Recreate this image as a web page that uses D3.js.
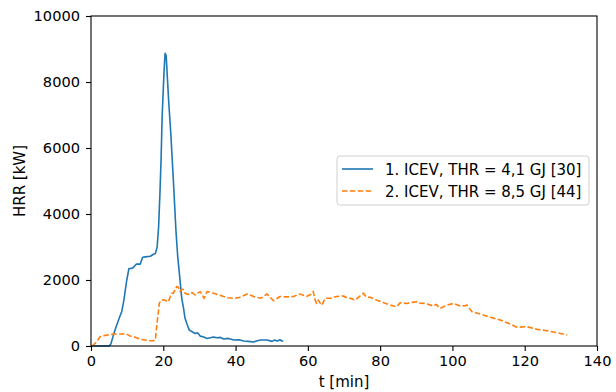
<!DOCTYPE html>
<html lang="en">
  <head>
    <meta charset="UTF-8" />
    <title>HRR ICEV</title>
    <script src="https://d3js.org/d3.v7.min.js"></script>
    <style>
      body { margin: 0; background: #fff; }
      text { font-family: "DejaVu Sans", sans-serif; fill: #000; }
    </style>
  </head>
  <body>
    <svg id="chart"></svg>
    <script>
      // series 1: ICEV, THR = 4,1 GJ
      const t1 = [0, 5, 5.5, 6.2, 7, 8, 8.5, 9.1, 9.5, 9.9, 10.5, 11.2, 11.7, 12.5, 13.6, 14.3, 15, 16.4, 17.3, 17.8,
        18.3, 18.7, 19.1, 19.4, 19.7, 20.2, 20.5, 20.8, 21.2, 21.5, 22.1, 22.5, 22.8, 23.5, 24.0, 24.5, 25.1, 25.6,
        26.0, 26.6, 27.2, 28.0, 28.8, 29.5, 30.2, 31, 32.1, 33, 33.9, 34.9, 35.8, 36.7, 38, 39.6, 41, 42.2, 43.5, 45,
        46, 46.9, 48.7, 50.1, 50.8, 51.5, 52.3, 52.8, 53.2];
      const hrr1 = [0, 0, 60, 330, 600, 900, 1040, 1390, 1700, 2000, 2350, 2350, 2380, 2480, 2480, 2690, 2700, 2720, 2780, 2800,
        3000, 3600, 4700, 5700, 7000, 8300, 8870, 8800, 8000, 7400, 6400, 5600, 5000, 3500, 2700, 2150, 1450, 1150,
        850, 650, 480, 430, 380, 400, 300, 280, 230, 250, 270, 250, 260, 210, 230, 180, 190, 150, 140, 120,
        160, 180, 180, 140, 180, 150, 190, 150, 160];

      // series 2: ICEV, THR = 8,5 GJ
      const t2 = [0.3, 1.6, 2.5, 3.0, 4.4, 6.2, 9.0, 9.4, 10.8, 11.7, 13.6, 14.5, 16.4, 17.2, 17.8, 18.2, 18.6, 18.9, 19.4,
        20.0, 21.0, 21.4, 22.3, 22.8, 23.7, 24.2, 24.6, 25.1, 25.5, 26.0, 26.9, 28.0, 28.8, 29.5, 30.2, 31.3, 32.1,
        33.9, 35.0, 36.7, 38, 39.5, 41, 43.2, 45, 46.9, 48.7, 50.5, 52.3, 54, 56, 57.8, 59.6, 60.8, 61.5, 62, 62.4,
        62.9, 63.4, 63.9, 64.8, 66.2, 68, 69.9, 71, 71.7, 73.1, 74.5, 75.4, 76.2, 77.3, 79.1, 81, 82.8, 84.6, 85.5,
        87.4, 88.5, 90.1, 91, 92.5, 94.8, 95.5, 96.6, 98.5, 100.3, 102.2, 103.5, 104, 105.4, 107.7, 110.5, 113.2,
        116, 117.8, 120.6, 123.4, 126.1, 128.9, 131.7];
      const hrr2 = [0, 130, 280, 300, 330, 360, 365, 385, 305, 290, 205, 190, 160, 160, 185, 620, 1000, 1290, 1390,
        1400, 1360, 1340, 1600, 1600, 1800, 1780, 1650, 1720, 1720, 1600, 1560, 1620, 1545, 1600, 1650, 1445, 1650,
        1600, 1560, 1500, 1460, 1445, 1470, 1575, 1500, 1445, 1575, 1370, 1500, 1490, 1500, 1575, 1500, 1560, 1650, 1400, 1290,
        1390, 1300, 1240, 1445, 1445, 1500, 1515, 1450, 1445, 1390, 1520, 1600, 1480, 1475, 1390, 1310, 1240, 1190, 1310,
        1290, 1320, 1340, 1300, 1290, 1210, 1260, 1140, 1240, 1290, 1210, 1220, 1240, 1040, 970, 870, 790,
        667, 567, 585, 505, 464, 403, 333];

      const seriesNames = ["1. ICEV, THR = 4,1 GJ [30]", "2. ICEV, THR = 8,5 GJ [44]"];
      const xTicks = [0, 20, 40, 60, 80, 100, 120, 140];
      const yTicks = [0, 2000, 4000, 6000, 8000, 10000];

      const WIDTH = 616, HEIGHT = 392;
      const margin = { top: 16, right: 19, bottom: 46, left: 91 };
      const TICK_FONT = 14.6, LABEL_FONT = 15;

      const svg = d3.select("#chart").attr("width", WIDTH).attr("height", HEIGHT);

      const x = d3.scaleLinear().domain([0, 140]).range([margin.left, WIDTH - margin.right]);
      const y = d3.scaleLinear().domain([0, 10000]).range([HEIGHT - margin.bottom, margin.top]);

      const line = d3.line().x((d) => x(d[0])).y((d) => y(d[1]));

      const series = [
        { data: d3.zip(t1, hrr1), color: "#1f77b4", dash: null },
        { data: d3.zip(t2, hrr2), color: "#ff7f0e", dash: "5.5,2.4" },
      ];

      const plot = svg.append("g");
      series.forEach((s) => {
        plot.append("path")
          .datum(s.data)
          .attr("d", line)
          .attr("fill", "none")
          .attr("stroke", s.color)
          .attr("stroke-width", 1.6)
          .attr("stroke-linejoin", "round")
          .attr("stroke-dasharray", s.dash);
      });

      // axes
      const xAxis = svg.append("g")
        .attr("transform", `translate(0,${HEIGHT - margin.bottom})`)
        .call(d3.axisBottom(x).tickValues(xTicks).tickSize(5).tickPadding(5).tickFormat(d3.format("d")));
      const yAxis = svg.append("g")
        .attr("transform", `translate(${margin.left},0)`)
        .call(d3.axisLeft(y).tickValues(yTicks).tickSize(5).tickPadding(6).tickFormat(d3.format("d")));
      [xAxis, yAxis].forEach((a) => {
        a.select(".domain").remove();
        a.selectAll(".tick line").attr("stroke", "#000").attr("stroke-width", 1.1);
        a.selectAll(".tick text").style("font-size", TICK_FONT + "px").attr("fill", "#000");
      });

      // frame
      svg.append("rect")
        .attr("x", margin.left).attr("y", margin.top)
        .attr("width", WIDTH - margin.left - margin.right)
        .attr("height", HEIGHT - margin.top - margin.bottom)
        .attr("fill", "none").attr("stroke", "#000").attr("stroke-width", 1.1);

      svg.append("text")
        .attr("x", (margin.left + WIDTH - margin.right) / 2)
        .attr("y", 387)
        .attr("text-anchor", "middle")
        .style("font-size", LABEL_FONT + "px")
        .text("t [min]");
      svg.append("text")
        .attr("transform", `translate(25,${(margin.top + HEIGHT - margin.bottom) / 2}) rotate(-90)`)
        .attr("text-anchor", "middle")
        .style("font-size", LABEL_FONT + "px")
        .text("HRR [kW]");

      // legend
      const lg = svg.append("g").attr("transform", "translate(337,156)");
      lg.append("rect")
        .attr("width", 252).attr("height", 49).attr("rx", 3)
        .attr("fill", "#fff").attr("fill-opacity", 0.8)
        .attr("stroke", "#d0d0d0").attr("stroke-width", 1);
      series.forEach((s, i) => {
        const yy = 13 + i * 22;
        lg.append("line")
          .attr("x1", 5).attr("x2", 36).attr("y1", yy).attr("y2", yy)
          .attr("stroke", s.color).attr("stroke-width", 1.6)
          .attr("stroke-dasharray", s.dash);
        lg.append("text")
          .attr("x", 48).attr("y", yy + 6)
          .style("font-size", LABEL_FONT + "px")
          .text(seriesNames[i]);
      });
    </script>
  </body>
</html>
